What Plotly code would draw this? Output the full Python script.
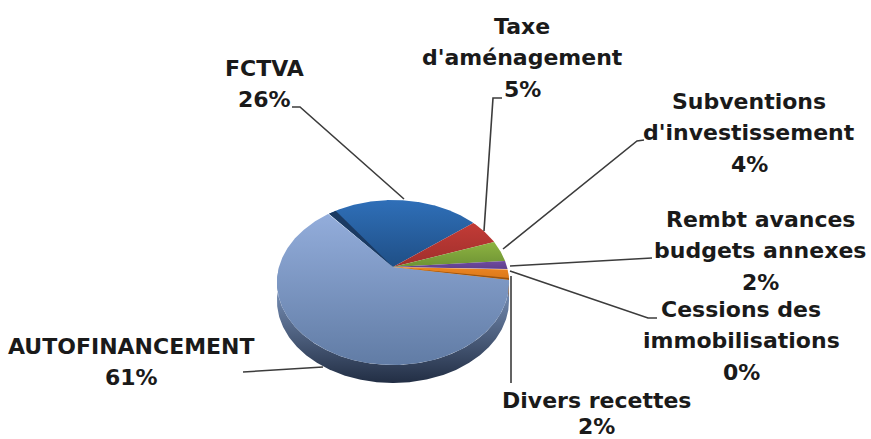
import numpy as np
import plotly.graph_objects as go

# ---- data ----
categories = ["AUTOFINANCEMENT", "FCTVA", "Taxe d'aménagement", "Subventions d'investissement",
              "Rembt avances budgets annexes", "Cessions des immobilisations", "Divers recettes"]
shares = [61.4, 25.5, 5.2, 4.2, 1.6, 0.1, 2.0]
label_lines = [["AUTOFINANCEMENT"], ["FCTVA"], ["Taxe", "d'aménagement"],
               ["Subventions", "d'investissement"], ["Rembt avances", "budgets annexes"],
               ["Cessions des", "immobilisations"], ["Divers recettes"]]
top_colors = ["#93ADDB", "#2F6FB8", "#C23B36", "#8DB341", "#6F4BA0", "#E8821E", "#EC8522"]
low_colors = ["#617CA5", "#1F4F86", "#A02F2C", "#6E9334", "#5F3F8C", "#C96D14", "#D9771A"]

# ---- layout of the tilted disc (pixels of the 871x439 frame) ----
CX, CY, A, B, K = 393, 267, 114, 79.6, 0.188
DEPTH = 18
END_ANGLE = -9   # degrees: where the ring of slices closes
label_x = [131, 264, 522, 749, 760, 741, 596]
label_y = [346, 68, 26, 101, 219, 309, 400]
label_gap = [31.5, 31.5, 31.5, 31.5, 31.5, 31.5, 26]
leaders = [
    [(243, 372), (323, 367)],
    [(292, 107), (300, 107), (404, 199)],
    [(502, 98), (493, 98), (484, 231)],
    [(644, 140), (637, 141), (503, 249)],
    [(652, 258), (510, 266)],
    [(657, 318), (648, 318), (510, 271)],
    [(511, 383), (511, 276)],
]


def project(deg, dy=0.0):
    t = np.radians(np.asarray(deg, dtype=float))
    u, v = np.cos(t), np.sin(t)
    w = 1 + K * v
    return CX + A * u / w, CY - B * v / w + dy


def wedge(a0, a1):
    ang = np.linspace(a0, a1, max(int(abs(a1 - a0)) * 2, 4))
    x, y = project(ang)
    return np.r_[CX, x, CX], np.r_[CY, y, CY]


def wall(a0, a1):
    ang = np.linspace(a0, a1, max(int(abs(a1 - a0)) * 2, 4))
    x, y = project(ang)
    xl, yl = project(ang[::-1], DEPTH)
    return np.r_[x, xl, x[0]], np.r_[y, yl, y[0]]


def poly(x, y, c0=None, c1=None, color=None):
    kw = dict(x=x, y=y, mode="lines", line=dict(width=0), fill="toself",
              hoverinfo="skip", showlegend=False)
    if c0:
        kw["fillgradient"] = dict(type="vertical", colorscale=[[0, c1], [1, c0]])
        kw["fillcolor"] = c0
    else:
        kw["fillcolor"] = color
    return go.Scatter(**kw)


# angular extent of every slice, counter-clockwise from END_ANGLE backwards through the list
deg = 360 * np.array(shares, dtype=float) / sum(shares)
ends = {}
cur = END_ANGLE
for i in range(len(shares) - 1, -1, -1):
    ends[i] = (cur, cur + deg[i])
    cur += deg[i]

fig = go.Figure()
# side walls
fig.add_trace(poly(*wall(180, ends[0][1]), c0="#8AA5D0", c1="#222E44"))
fig.add_trace(poly(*wall(ends[6][0], ends[6][1]), color="#A85A12"))
# top faces
for i in [0, 1, 2, 3, 4, 6]:
    a0, a1 = ends[i]
    fig.add_trace(poly(*wedge(a0, a1), c0=top_colors[i], c1=low_colors[i]))
# dark inner wall of the FCTVA slice
a1 = ends[1][1]
fig.add_trace(poly(*wedge(a1 - 4.5, a1), color="#1B3A62"))
# dark lower lip of the orange slice
fig.add_trace(poly(*wedge(ends[6][0], ends[6][0] + 1.2), color="#9A5410"))

# leader lines
for pts in leaders:
    fig.add_trace(go.Scatter(x=[p[0] for p in pts], y=[p[1] for p in pts], mode="lines",
                             line=dict(color="#3C3C3C", width=1.6),
                             hoverinfo="skip", showlegend=False))

# labels
for i, lines in enumerate(label_lines):
    texts = lines + [f"{round(shares[i])}%"]
    for j, t in enumerate(texts):
        fig.add_annotation(x=label_x[i], y=label_y[i] + j * label_gap[i], text=t, showarrow=False,
                           xanchor="center", yanchor="middle",
                           font=dict(family="DejaVu Sans", size=22, color="#1A1A1A", weight="bold"))

fig.update_layout(
    width=871, height=439, margin=dict(l=0, r=0, t=0, b=0),
    paper_bgcolor="white", plot_bgcolor="white", showlegend=False,
    xaxis=dict(range=[0, 871], visible=False, fixedrange=True),
    yaxis=dict(range=[439, 0], visible=False, fixedrange=True),
)
fig.write_html("out.html", config={"displayModeBar": False},
               post_script="document.body.style.margin='0';document.documentElement.style.overflow='hidden';")
